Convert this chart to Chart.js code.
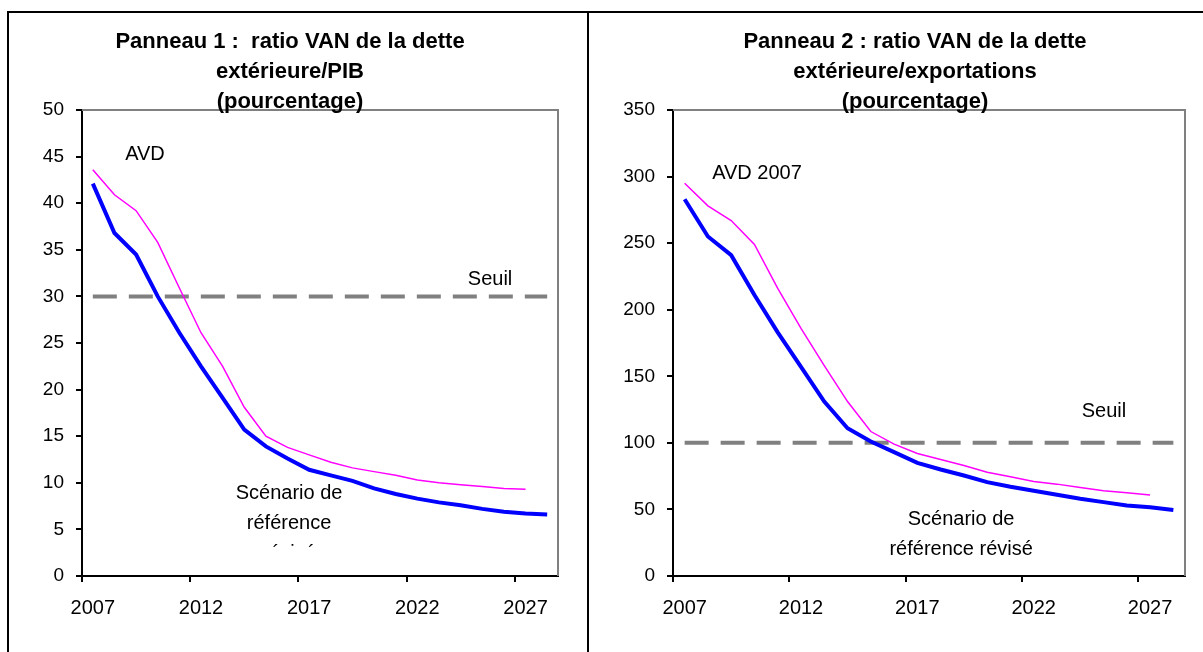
<!DOCTYPE html>
<html lang="fr">
<head>
<meta charset="utf-8">
<title>Ratios VAN de la dette extérieure</title>
<script src="https://cdn.jsdelivr.net/npm/chart.js@4.4.1/dist/chart.umd.min.js"></script>
<style>
  html, body { margin: 0; padding: 0; background: #fff; }
  body { width: 1203px; height: 652px; position: relative; overflow: hidden; }
  .cadre { position: absolute; background: #000; }
  .panneau { position: absolute; top: 13px; height: 639px; }
</style>
</head>
<body>
<div class="cadre" style="left:7px;top:11px;width:1196px;height:2px"></div>
<div class="cadre" style="left:7px;top:11px;width:2px;height:641px"></div>
<div class="cadre" style="left:587px;top:11px;width:2px;height:641px"></div>
<div class="panneau" style="left:9px;width:578px"><canvas id="panneau1"></canvas></div>
<div class="panneau" style="left:589px;width:614px"><canvas id="panneau2"></canvas></div>

<script>
// Années (axe des catégories) et étiquettes affichées
var annees = ['2007', '2008', '2009', '2010', '2011', '2012', '2013', '2014', '2015', '2016', '2017',
              '2018', '2019', '2020', '2021', '2022', '2023', '2024', '2025', '2026', '2027', '2028'];
var anneesAffichees = ['2007', '2012', '2017', '2022', '2027'];

// Panneau 1 : VAN dette extérieure / PIB (%)
var pibScenario = [42.1, 36.8, 34.5, 30.0, 26.1, 22.5, 19.1, 15.7, 13.9, 12.6, 11.4,
                   10.8, 10.2, 9.4, 8.8, 8.3, 7.9, 7.6, 7.2, 6.9, 6.7, 6.6];
var pibAvd = [43.6, 40.9, 39.2, 35.8, 30.9, 26.1, 22.5, 18.1, 15.0, 13.8, 13.0,
              12.2, 11.6, 11.2, 10.8, 10.3, 10.0, 9.8, 9.6, 9.4, 9.3];
var pibSeuil = [30, 30, 30, 30, 30, 30, 30, 30, 30, 30, 30,
                30, 30, 30, 30, 30, 30, 30, 30, 30, 30, 30];

// Panneau 2 : VAN dette extérieure / exportations (%)
var expScenario = [283, 255, 241, 211, 183, 157, 131, 111, 101, 93, 85,
                   80, 75.5, 70.5, 67, 64, 61, 58, 55.5, 53, 51.6, 49.5];
var expAvd = [295, 278, 267, 249, 216, 186, 158, 131, 108.5, 99, 92,
              87.5, 83, 78, 74.5, 71, 69, 66.5, 64, 62.5, 60.8];
var expSeuil = [100, 100, 100, 100, 100, 100, 100, 100, 100, 100, 100,
                100, 100, 100, 100, 100, 100, 100, 100, 100, 100, 100];

var POLICE = 'Arial, "Liberation Sans", sans-serif';
Chart.defaults.font.family = POLICE;
Chart.defaults.color = '#000';

// Cadre gris du graphique, titre et annotations
function habillage(cfg) {
    return {
        id: 'habillage',
        beforeDatasetsDraw: function (chart) {
            var a = chart.chartArea, ctx = chart.ctx;
            ctx.save();
            ctx.strokeStyle = '#808080';
            ctx.lineWidth = 2;
            ctx.beginPath();
            ctx.moveTo(a.left, a.top);
            ctx.lineTo(a.right, a.top);
            ctx.lineTo(a.right, a.bottom);
            ctx.stroke();
            ctx.restore();
        },
        afterDraw: function (chart) {
            var ctx = chart.ctx;
            ctx.save();
            ctx.fillStyle = '#000';
            ctx.textAlign = 'center';
            ctx.textBaseline = 'middle';
            ctx.font = 'bold 22px ' + POLICE;
            cfg.titre.forEach(function (ligne, i) {
                ctx.fillText(ligne, cfg.titreX, cfg.titreY + i * 30);
            });
            ctx.font = '20px ' + POLICE;
            cfg.notes.forEach(function (n) {
                var x = chart.scales.x.getPixelForValue(n.x);
                var y = chart.scales.y.getPixelForValue(n.y);
                ctx.save();
                // la 3e ligne du panneau 1 est coupée dans l'original
                if (n.coupe !== undefined) {
                    var yc = chart.scales.y.getPixelForValue(n.coupe);
                    ctx.beginPath();
                    ctx.rect(0, 0, chart.width, yc);
                    ctx.clip();
                }
                n.lignes.forEach(function (l, i) {
                    ctx.fillText(l, x, y + i * 30);
                });
                ctx.restore();
            });
            ctx.restore();
        }
    };
}

function creerPanneau(id, scenario, avd, seuil, yMax, yPas, largeurAxe, margeDroite, cfg) {
    var ctx = document.getElementById(id);
    if (!ctx) return;
    new Chart(ctx, {
        type: 'line',
        data: {
            labels: annees,
            datasets: [
                { data: scenario, borderColor: '#0000ff', borderWidth: 4, pointRadius: 0, tension: 0 },
                { data: avd, borderColor: '#ff00ff', borderWidth: 1.5, pointRadius: 0, tension: 0 },
                { data: seuil, borderColor: '#808080', borderWidth: 4, borderDash: [24, 12], pointRadius: 0, tension: 0 }
            ]
        },
        options: {
            responsive: true,
            maintainAspectRatio: false,
            animation: false,
            layout: { padding: { top: 97, right: margeDroite, left: 0, bottom: 0 } },
            plugins: {
                legend: { display: false },
                tooltip: { enabled: false },
                title: { display: false }
            },
            scales: {
                x: {
                    offset: true,
                    afterFit: function (s) { s.height = 76; },
                    border: { color: '#000', width: 2 },
                    grid: {
                        offset: true,
                        drawOnChartArea: false,
                        tickLength: 6,
                        lineWidth: 2,
                        color: function (c) {
                            return anneesAffichees.indexOf(annees[c.index]) >= 0 ? '#000' : 'rgba(0,0,0,0)';
                        }
                    },
                    ticks: {
                        autoSkip: false,
                        maxRotation: 0,
                        padding: 14,
                        font: { size: 20 },
                        callback: function (v, i) {
                            return anneesAffichees.indexOf(annees[i]) >= 0 ? annees[i] : '';
                        }
                    }
                },
                y: {
                    min: 0,
                    max: yMax,
                    afterFit: function (s) { s.width = largeurAxe; },
                    border: { color: '#000', width: 2 },
                    grid: { drawOnChartArea: false, tickLength: 6, lineWidth: 2, color: '#000' },
                    ticks: { stepSize: yPas, padding: 12, font: { size: 19 } }
                }
            }
        },
        plugins: [habillage(cfg)]
    });
}

creerPanneau('panneau1', pibScenario, pibAvd, pibSeuil, 50, 5, 73, 29, {
    titre: ['Panneau 1 :  ratio VAN de la dette', 'extérieure/PIB', '(pourcentage)'],
    titreX: 281, titreY: 29,
    notes: [
        { lignes: ['AVD'], x: 2.41, y: 45.2 },
        { lignes: ['Seuil'], x: 18.36, y: 31.8 },
        { lignes: ['Scénario de', 'référence', 'révisé'], x: 9.07, y: 8.9, coupe: 3.1 }
    ]
});

creerPanneau('panneau2', expScenario, expAvd, expSeuil, 350, 50, 84, 18, {
    titre: ['Panneau 2 : ratio VAN de la dette', 'extérieure/exportations', '(pourcentage)'],
    titreX: 326, titreY: 29,
    notes: [
        { lignes: ['AVD 2007'], x: 3.11, y: 302.6 },
        { lignes: ['Seuil'], x: 18.02, y: 123.9 },
        { lignes: ['Scénario de', 'référence révisé'], x: 11.88, y: 42.8 }
    ]
});
</script>
</body>
</html>
